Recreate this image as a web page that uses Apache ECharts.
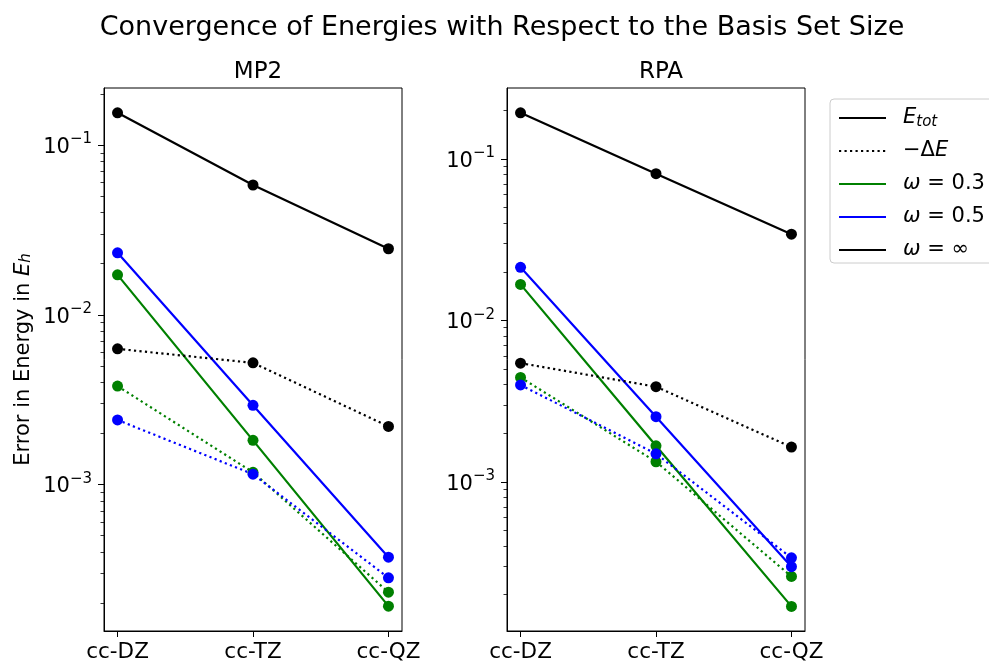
<!DOCTYPE html>
<html>
<head>
<meta charset="utf-8">
<script src="https://cdn.jsdelivr.net/npm/echarts@6/dist/echarts.min.js"></script>
<style>
html, body { margin: 0; padding: 0; background: #fff; }
#chart { width: 989px; height: 664px; }
</style>
</head>
<body>
<div id="chart"></div>
<script>
// basis sets on the x axis
const basis = ['cc-DZ', 'cc-TZ', 'cc-QZ']

// MP2 errors, solid = E_tot, dotted = -dE
const mp2TotW03 = [0.0172, 0.00182, 0.000192]
const mp2TotW05 = [0.0232, 0.00293, 0.000373]
const mp2TotWinf = [0.155, 0.0582, 0.0245]
const mp2DeW03 = [0.0038, 0.00118, 0.000232]
const mp2DeW05 = [0.0024, 0.00115, 0.000282]
const mp2DeWinf = [0.0063, 0.00521, 0.0022]

// RPA errors
const rpaTotW03 = [0.0167, 0.00167, 0.000169]
const rpaTotW05 = [0.0213, 0.00253, 0.000298]
const rpaTotWinf = [0.193, 0.081, 0.0342]
const rpaDeW03 = [0.00443, 0.00133, 0.000259]
const rpaDeW05 = [0.00398, 0.00149, 0.000338]
const rpaDeWinf = [0.00543, 0.00388, 0.00164]

// y ranges (log axes) and tick values
const mp2Range = [1.37e-4, 0.217]
const rpaRange = [1.19e-4, 0.275]
const decades = [1e-4, 1e-3, 1e-2, 1e-1]
const mantissas = [2, 3, 4, 5, 6, 7, 8, 9]

const GREEN = '#008000'
const BLUE = '#0000ff'
const BLACK = '#000000'
const FONT = 'DejaVu Sans'

const inRange = function (range, v) {
    return v >= range[0] && v <= range[1]
}

const majorTicks = function (range) {
    return decades.filter(v => inRange(range, v))
}

const minorTicks = function (range) {
    const out = []
    decades.forEach(d => {
        mantissas.forEach(m => {
            const v = m * d
            if (inRange(range, v)) {
                out.push(v)
            }
        })
    })
    return out
}

const decadeLabel = function (v) {
    const p = Math.round(Math.log10(v))
    const s = p < 0 ? '\u2212' + (-p) : String(p)
    return '{b|10}{s|' + s + '}'
}

const toPoints = function (values) {
    return values.map((v, i) => [i, v])
}

const makeX = function (gridIndex) {
    return {
        type: 'value',
        gridIndex: gridIndex,
        min: -0.1,
        max: 2.1,
        splitLine: { show: false },
        axisLine: { show: true, onZero: false, lineStyle: { color: BLACK, width: 1 } },
        axisTick: {
            show: true,
            length: 6,
            customValues: [0, 1, 2],
            lineStyle: { color: BLACK, width: 1 }
        },
        axisLabel: {
            customValues: [0, 1, 2],
            formatter: v => basis[Math.round(v)],
            color: BLACK,
            fontFamily: FONT,
            fontSize: 21.5,
            margin: 10
        }
    }
}

const makeY = function (gridIndex, range, withName) {
    const main = {
        type: 'log',
        logBase: 10,
        gridIndex: gridIndex,
        position: 'left',
        min: range[0],
        max: range[1],
        splitLine: { show: false },
        axisLine: { show: true, onZero: false, lineStyle: { color: BLACK, width: 1 } },
        axisTick: {
            show: true,
            length: 6,
            customValues: majorTicks(range),
            lineStyle: { color: BLACK, width: 1 }
        },
        axisLabel: {
            customValues: majorTicks(range),
            formatter: decadeLabel,
            color: BLACK,
            margin: 12,
            rich: {
                b: { fontFamily: FONT, fontSize: 21, color: BLACK, verticalAlign: 'bottom', lineHeight: 26 },
                s: { fontFamily: FONT, fontSize: 15, color: BLACK, verticalAlign: 'top', lineHeight: 26 }
            }
        }
    }
    if (withName) {
        main.name = '{n|Error in Energy in }{i|E}{sub|h}'
        main.nameLocation = 'middle'
        main.nameGap = 70
        main.nameTextStyle = {
            fontFamily: FONT,
            fontSize: 21,
            color: BLACK,
            rich: {
                n: { fontFamily: FONT, fontSize: 21, color: BLACK, lineHeight: 26, verticalAlign: 'bottom' },
                i: { fontFamily: FONT, fontSize: 21, fontStyle: 'italic', color: BLACK, lineHeight: 26, verticalAlign: 'bottom' },
                sub: { fontFamily: FONT, fontSize: 15, fontStyle: 'italic', color: BLACK, lineHeight: 22, verticalAlign: 'bottom' }
            }
        }
    }
    const minor = {
        type: 'log',
        logBase: 10,
        gridIndex: gridIndex,
        position: 'left',
        offset: 0,
        min: range[0],
        max: range[1],
        splitLine: { show: false },
        axisLine: { show: false, onZero: false },
        axisTick: {
            show: true,
            length: 3.5,
            customValues: minorTicks(range),
            lineStyle: { color: BLACK, width: 0.8 }
        },
        axisLabel: { show: false }
    }
    return [main, minor]
}

const makeLine = function (name, values, color, dotted, xi, yi) {
    return {
        name: name,
        type: 'line',
        xAxisIndex: xi,
        yAxisIndex: yi,
        data: toPoints(values),
        symbol: 'circle',
        symbolSize: 11,
        showSymbol: true,
        silent: true,
        itemStyle: { color: color },
        lineStyle: {
            color: color,
            width: 2.2,
            type: dotted ? [2.2, 3.3] : 'solid'
        },
        emphasis: { disabled: true },
        animation: false
    }
}

const legendProxy = function (name, color, dotted) {
    return {
        name: name,
        type: 'line',
        xAxisIndex: 0,
        yAxisIndex: 0,
        data: [],
        symbol: 'none',
        itemStyle: { color: color },
        lineStyle: { color: color, width: 2.2, type: dotted ? [2.2, 3.3] : 'solid' }
    }
}

const legendNames = {
    'Etot': '{i|E}{sub|tot}',
    'dE': '{n|\u2212\u0394}{i|E}',
    'w03': '{i|\u03c9}{n| = 0.3}',
    'w05': '{i|\u03c9}{n| = 0.5}',
    'winf': '{i|\u03c9}{n| = \u221e}'
}

const [mp2Y, mp2YMinor] = makeY(0, mp2Range, true)
const [rpaY, rpaYMinor] = makeY(1, rpaRange, false)

const option = {
    backgroundColor: '#ffffff',
    animation: false,
    title: [
        {
            text: 'Convergence of Energies with Respect to the Basis Set Size',
            left: 497,
            top: 9,
            textAlign: 'center',
            textStyle: { fontFamily: FONT, fontSize: 27, fontWeight: 'normal', color: BLACK }
        },
        {
            text: 'MP2',
            left: 253,
            top: 56,
            textAlign: 'center',
            textStyle: { fontFamily: FONT, fontSize: 23, fontWeight: 'normal', color: BLACK }
        },
        {
            text: 'RPA',
            left: 656,
            top: 56,
            textAlign: 'center',
            textStyle: { fontFamily: FONT, fontSize: 23, fontWeight: 'normal', color: BLACK }
        }
    ],
    legend: {
        orient: 'vertical',
        left: 830,
        top: 99,
        padding: [7, 30, 1, 8],
        itemWidth: 47,
        itemHeight: 14,
        itemGap: 9,
        backgroundColor: '#ffffff',
        borderColor: '#cccccc',
        borderWidth: 1,
        borderRadius: 4,
        selectedMode: false,
        itemStyle: { opacity: 0 },
        data: ['Etot', 'dE', 'w03', 'w05', 'winf'],
        formatter: name => legendNames[name],
        textStyle: {
            fontFamily: FONT,
            fontSize: 21,
            color: BLACK,
            lineHeight: 24,
            padding: [0, 0, 0, 12],
            rich: {
                n: { fontFamily: FONT, fontSize: 21, color: BLACK, lineHeight: 24 },
                i: { fontFamily: FONT, fontSize: 21, fontStyle: 'italic', color: BLACK, lineHeight: 24 },
                sub: { fontFamily: FONT, fontSize: 15, fontStyle: 'italic', color: BLACK, lineHeight: 24, verticalAlign: 'bottom' }
            }
        }
    },
    grid: [
        { left: 104, top: 88, width: 298, height: 543, show: true, borderColor: BLACK, borderWidth: 1 },
        { left: 507, top: 88, width: 298, height: 543, show: true, borderColor: BLACK, borderWidth: 1 }
    ],
    xAxis: [makeX(0), makeX(1)],
    yAxis: [mp2Y, mp2YMinor, rpaY, rpaYMinor],
    series: [
        legendProxy('Etot', BLACK, false),
        legendProxy('dE', BLACK, true),
        legendProxy('w03', GREEN, false),
        legendProxy('w05', BLUE, false),
        legendProxy('winf', BLACK, false),

        makeLine('MP2 tot 0.3', mp2TotW03, GREEN, false, 0, 0),
        makeLine('MP2 dE 0.3', mp2DeW03, GREEN, true, 0, 0),
        makeLine('MP2 tot 0.5', mp2TotW05, BLUE, false, 0, 0),
        makeLine('MP2 dE 0.5', mp2DeW05, BLUE, true, 0, 0),
        makeLine('MP2 tot inf', mp2TotWinf, BLACK, false, 0, 0),
        makeLine('MP2 dE inf', mp2DeWinf, BLACK, true, 0, 0),

        makeLine('RPA tot 0.3', rpaTotW03, GREEN, false, 1, 2),
        makeLine('RPA dE 0.3', rpaDeW03, GREEN, true, 1, 2),
        makeLine('RPA tot 0.5', rpaTotW05, BLUE, false, 1, 2),
        makeLine('RPA dE 0.5', rpaDeW05, BLUE, true, 1, 2),
        makeLine('RPA tot inf', rpaTotWinf, BLACK, false, 1, 2),
        makeLine('RPA dE inf', rpaDeWinf, BLACK, true, 1, 2)
    ]
}

const myChart = echarts.init(document.getElementById('chart'), null, { renderer: 'canvas' })
myChart.setOption(option)
</script>
</body>
</html>
